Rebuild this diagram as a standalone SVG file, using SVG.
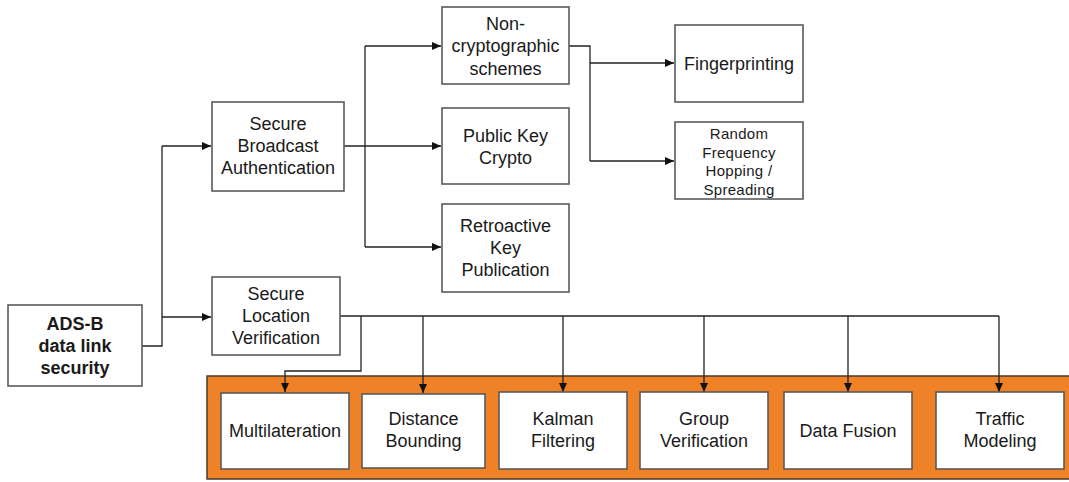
<svg xmlns="http://www.w3.org/2000/svg" width="1069" height="482" viewBox="0 0 1069 482">
<defs>
<marker id="arr" markerWidth="9" markerHeight="8" refX="9" refY="4" orient="auto" markerUnits="userSpaceOnUse">
<path d="M0,0 L9,4 L0,8 z" fill="#111"/>
</marker>
<style>
.box{fill:#fff;stroke:#5a5a5a;stroke-width:1.6}
.t{font-family:"Liberation Sans",Arial,sans-serif;font-size:18px;fill:#1a1a1a;text-anchor:middle}
.b{font-weight:bold}
.s{font-size:15px;letter-spacing:0.3px}
.c{fill:none;stroke:#222;stroke-width:1.3}
.ca{fill:none;stroke:#222;stroke-width:1.3;marker-end:url(#arr)}
</style>
</defs>
<rect width="1069" height="482" fill="#fff"/>
<rect id="panel" x="207" y="376" width="866" height="103" fill="#EF8227" stroke="#4a3a2a" stroke-width="1.5"/>

<g id="connectors">
<path class="c" d="M142,346 H162 V146"/>
<path class="ca" d="M162,146 H211"/>
<path class="ca" d="M162,317 H211"/>
<path class="ca" d="M344,146 H441"/>
<path class="c" d="M365,46 V247"/>
<path class="ca" d="M365,46 H441"/>
<path class="ca" d="M365,247 H441"/>
<path class="c" d="M569,46 H590 V161"/>
<path class="ca" d="M590,161 H674"/>
<path class="ca" d="M590,63 H674"/>
<path class="c" d="M340,316 H999"/>
<path class="ca" d="M999,316 V392"/>
<path class="ca" d="M423,316 V393"/>
<path class="ca" d="M563,316 V392"/>
<path class="ca" d="M704,316 V392"/>
<path class="ca" d="M848,316 V392"/>
<path class="ca" d="M361,316 V371 H285 V392"/>
</g>

<g id="adsb">
<rect class="box" x="8" y="305" width="134" height="81"/>
<text class="t b" x="75" y="329.5">ADS-B</text>
<text class="t b" x="75" y="351.5">data link</text>
<text class="t b" x="75" y="373.5">security</text>
</g>
<g id="sba">
<rect class="box" x="212" y="102" width="132" height="89"/>
<text class="t" x="278" y="129.5">Secure</text>
<text class="t" x="278" y="151.5">Broadcast</text>
<text class="t" x="278" y="173.5">Authentication</text>
</g>
<g id="slv">
<rect class="box" x="212" y="277" width="128" height="78"/>
<text class="t" x="276" y="299.5">Secure</text>
<text class="t" x="276" y="321.5">Location</text>
<text class="t" x="276" y="343.5">Verification</text>
</g>
<g id="noncrypto">
<rect class="box" x="442" y="7" width="127" height="77"/>
<text class="t" x="505.5" y="29.5">Non-</text>
<text class="t" x="505.5" y="52">cryptographic</text>
<text class="t" x="505.5" y="74.5">schemes</text>
</g>
<g id="pkc">
<rect class="box" x="442" y="108" width="127" height="76"/>
<text class="t" x="505.5" y="141.5">Public Key</text>
<text class="t" x="505.5" y="163.5">Crypto</text>
</g>
<g id="retro">
<rect class="box" x="442" y="204" width="127" height="88"/>
<text class="t" x="505.5" y="231.5">Retroactive</text>
<text class="t" x="505.5" y="253.5">Key</text>
<text class="t" x="505.5" y="275.5">Publication</text>
</g>
<g id="finger">
<rect class="box" x="675" y="25" width="128" height="77"/>
<text class="t" x="739" y="69.5">Fingerprinting</text>
</g>
<g id="rfh">
<rect class="box" x="675" y="122" width="128" height="77"/>
<text class="t s" x="739" y="138.5">Random</text>
<text class="t s" x="739" y="157.5">Frequency</text>
<text class="t s" x="739" y="175.5">Hopping /</text>
<text class="t s" x="739" y="194.5">Spreading</text>
</g>
<g id="multi">
<rect class="box" x="221" y="393" width="128" height="76"/>
<text class="t" x="285" y="436.5">Multilateration</text>
</g>
<g id="dist">
<rect class="box" x="362" y="394" width="123" height="74"/>
<text class="t" x="423.5" y="424.5">Distance</text>
<text class="t" x="423.5" y="446.5">Bounding</text>
</g>
<g id="kalman">
<rect class="box" x="499" y="392" width="128" height="77"/>
<text class="t" x="563" y="424.5">Kalman</text>
<text class="t" x="563" y="446.5">Filtering</text>
</g>
<g id="group">
<rect class="box" x="640" y="392" width="128" height="77"/>
<text class="t" x="704" y="424.5">Group</text>
<text class="t" x="704" y="446.5">Verification</text>
</g>
<g id="fusion">
<rect class="box" x="784" y="392" width="128" height="77"/>
<text class="t" x="848" y="436.5">Data Fusion</text>
</g>
<g id="traffic">
<rect class="box" x="936" y="392" width="128" height="77"/>
<text class="t" x="1000" y="424.5">Traffic</text>
<text class="t" x="1000" y="446.5">Modeling</text>
</g>
</svg>
